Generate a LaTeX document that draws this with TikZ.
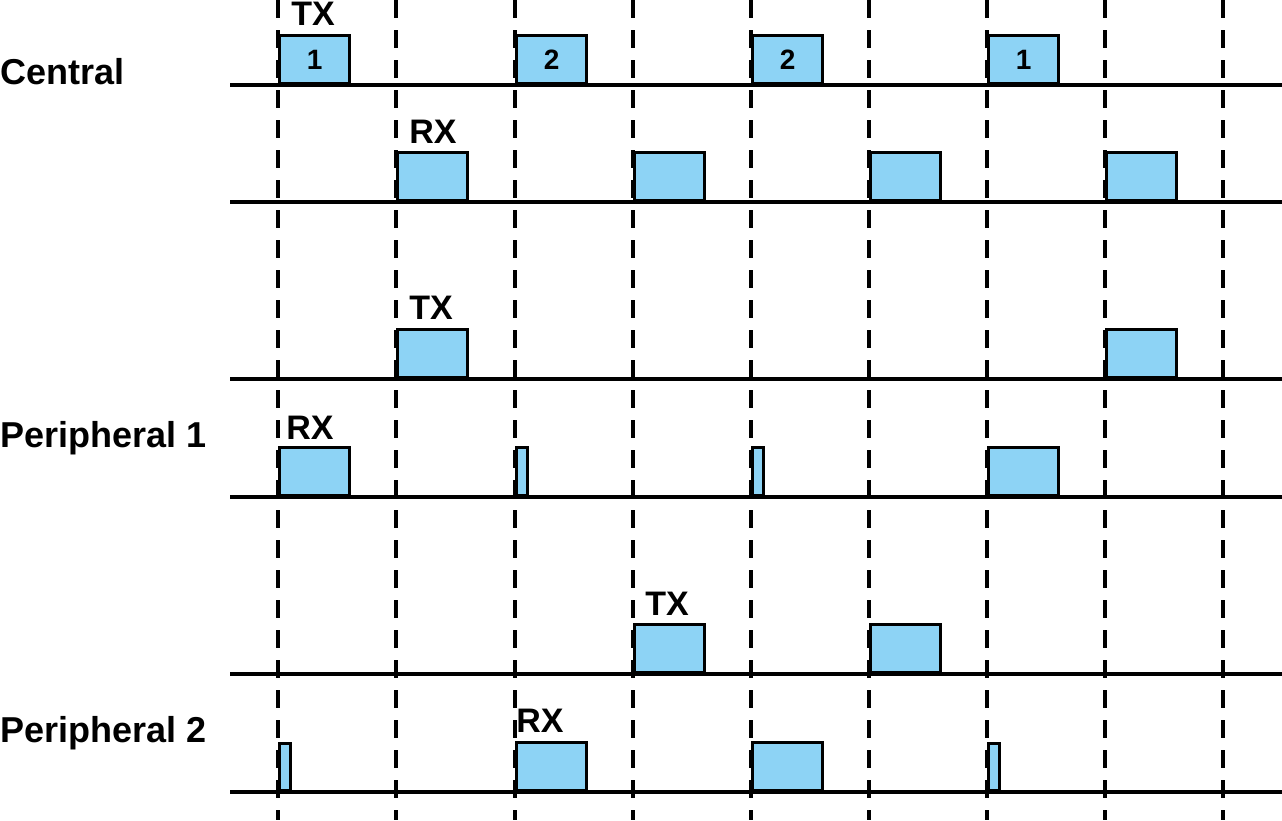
\documentclass[tikz,border=0pt]{standalone}
\usepackage{fontspec}
\setmainfont{Liberation Sans}
\begin{document}
\begin{tikzpicture}[x=1pt,y=-1pt,
  slot/.style={draw=black,line width=3.2pt,fill=slotblue,inner sep=0pt,anchor=south west,minimum height=48pt,font=\bfseries\fontsize{28}{30}\selectfont},
  thin/.style={slot,minimum width=11pt},
  wide/.style={slot,minimum width=70pt},
  lbl/.style={font=\bfseries\fontsize{34}{36}\selectfont,inner sep=0pt},
  side/.style={font=\bfseries\fontsize{36}{40}\selectfont,inner sep=0pt,anchor=west},
  base/.style={line width=3.2pt},
  grid/.style={line width=3.2pt,dash pattern=on 18pt off 12pt}]
\definecolor{slotblue}{HTML}{8DD3F5}
\useasboundingbox (0,0) rectangle (1282,820);
\foreach \x in {278,396,515,633,751,869,987,1105,1223}
  \draw[grid] (\x,0) -- (\x,820);
\foreach \y in {85,202,379,497,674,792}
  \draw[base] (230,\y) -- (1282,\y);
% Central
\node[wide] (c1) at (278,85) {1};
\node[wide] (c2) at (515,85) {2};
\node[wide] (c3) at (751,85) {2};
\node[wide] (c4) at (987,85) {1};
\foreach \x/\n in {396/a,633/b,869/c,1105/d} \node[wide] (cr\n) at (\x,202) {};
% P1
\node[wide] (p1a) at (396,379) {};
\node[wide] (p1b) at (1105,379) {};
\node[wide] (p1c) at (278,497) {};
\node[thin] (p1d) at (515,497) {};
\node[thin] (p1e) at (751,497) {};
\node[wide] (p1f) at (987,497) {};
% P2
\node[wide] (p2a) at (633,674) {};
\node[wide] (p2b) at (869,674) {};
\node[thin,minimum height=47pt] (p2c) at (278,792) {};
\node[wide] (p2d) at (515,792) {};
\node[wide] (p2e) at (751,792) {};
\node[thin,minimum height=47pt] (p2f) at (987,792) {};
% labels
\node[lbl] (t1) at (313,14) {TX};
\node[lbl] (r1) at (433,132) {RX};
\node[lbl] (t2) at (431,308) {TX};
\node[lbl] (r2) at (310,428) {RX};
\node[lbl] (t3) at (667,604) {TX};
\node[lbl] (r3) at (540,721) {RX};
\node[side] (sc) at (0,72) {Central};
\node[side] (s1) at (0,438) {Peripheral 1};
\node[side] (s2) at (0,733) {Peripheral 2};
\end{tikzpicture}
\end{document}
